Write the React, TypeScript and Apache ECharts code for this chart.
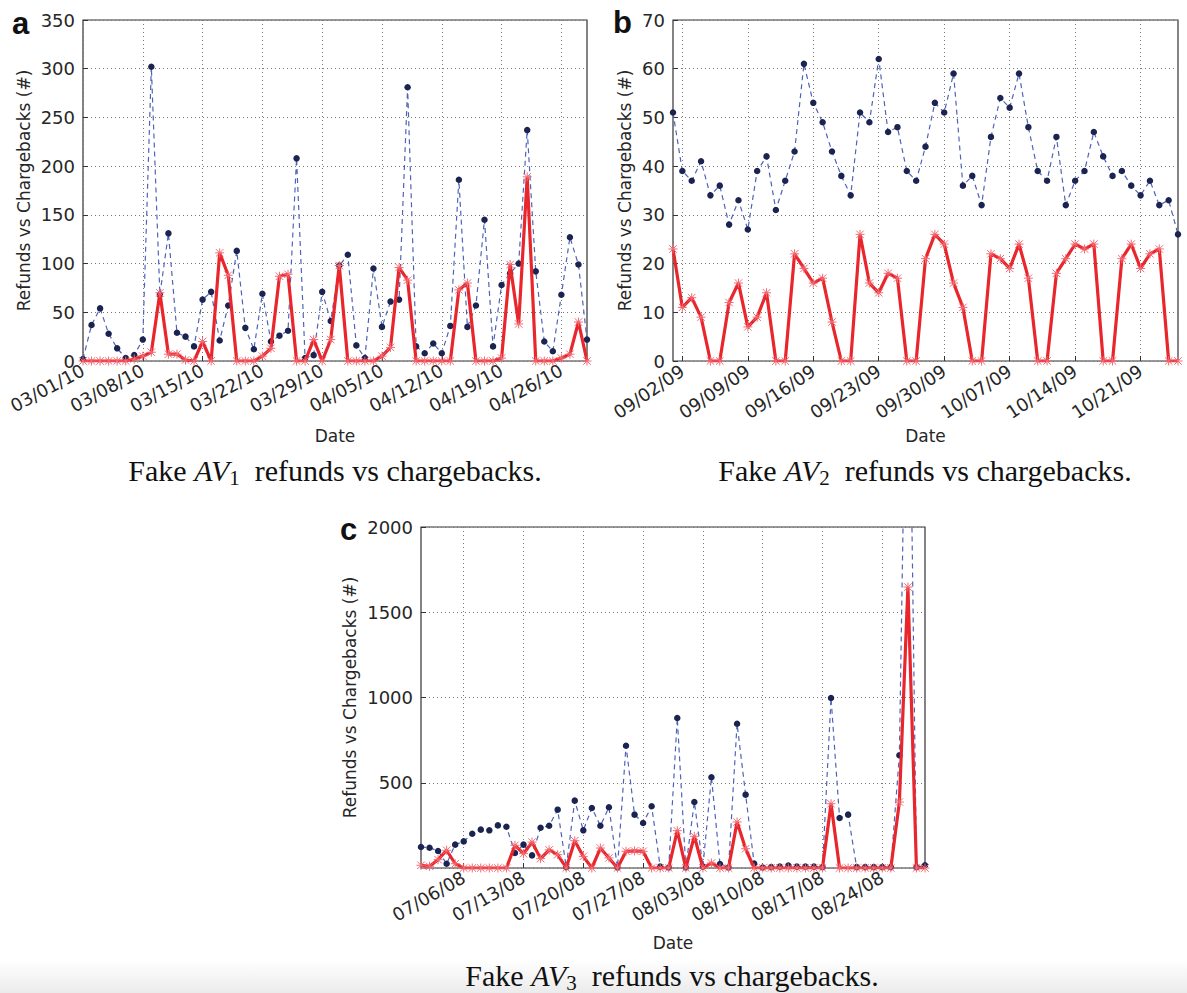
import React, { useEffect, useRef } from "react";
import * as echarts from "echarts";

// ---------- Panel a: Fake AV1 (day 0 = 03/01/10) ----------
const aTickDays = [0, 7, 14, 21, 28, 35, 42, 49, 56];
const aTickLabels = ["03/01/10", "03/08/10", "03/15/10", "03/22/10", "03/29/10", "04/05/10", "04/12/10", "04/19/10", "04/26/10"];
const aRefunds = [
  2, 37, 54, 28, 13, 3, 6, 22, 302, 68,
  131, 29, 25, 15, 63, 71, 21, 57, 113, 34,
  12, 69, 20, 26, 31, 208, 3, 6, 71, 41,
  98, 109, 16, 3, 95, 35, 61, 63, 281, 15,
  8, 18, 8, 36, 186, 35, 57, 145, 15, 78,
  90, 100, 237, 92, 20, 10, 68, 127, 99, 22,
];
const aChargebacks = [
  0, 0, 0, 0, 0, 0, 2, 5, 9, 70,
  7, 7, 1, 0, 20, 0, 111, 88, 0, 0,
  0, 5, 13, 87, 89, 0, 0, 22, 0, 22,
  98, 0, 0, 0, 0, 5, 14, 96, 83, 0,
  0, 0, 0, 0, 73, 80, 0, 0, 0, 3,
  99, 38, 189, 0, 0, 0, 3, 7, 40, 0,
];

// ---------- Panel b: Fake AV2 (day 0 = 09/01/09) ----------
const bTickDays = [1, 8, 15, 22, 29, 36, 43, 50];
const bTickLabels = ["09/02/09", "09/09/09", "09/16/09", "09/23/09", "09/30/09", "10/07/09", "10/14/09", "10/21/09"];
const bRefunds = [
  51, 39, 37, 41, 34, 36, 28, 33, 27, 39,
  42, 31, 37, 43, 61, 53, 49, 43, 38, 34,
  51, 49, 62, 47, 48, 39, 37, 44, 53, 51,
  59, 36, 38, 32, 46, 54, 52, 59, 48, 39,
  37, 46, 32, 37, 39, 47, 42, 38, 39, 36,
  34, 37, 32, 33, 26,
];
const bChargebacks = [
  23, 11, 13, 9, 0, 0, 12, 16, 7, 9,
  14, 0, 0, 22, 19, 16, 17, 8, 0, 0,
  26, 16, 14, 18, 17, 0, 0, 21, 26, 24,
  16, 11, 0, 0, 22, 21, 19, 24, 17, 0,
  0, 18, 21, 24, 23, 24, 0, 0, 21, 24,
  19, 22, 23, 0, 0,
];

// ---------- Panel c: Fake AV3 (day 0 = 07/01/08) ----------
const cTickDays = [5, 12, 19, 26, 33, 40, 47, 54];
const cTickLabels = ["07/06/08", "07/13/08", "07/20/08", "07/27/08", "08/03/08", "08/10/08", "08/17/08", "08/24/08"];
const cRefunds = [
  123, 119, 100, 25, 137, 156, 201, 225, 221, 250,
  242, 88, 137, 74, 236, 248, 342, 5, 395, 221,
  352, 248, 356, 3, 717, 313, 264, 362, 8, 3,
  880, 3, 387, 8, 532, 23, 3, 846, 430, 26,
  3, 5, 8, 14, 8, 8, 8, 5, 997, 293,
  313, 5, 5, 5, 5, 5, 661, 3800, 5, 16,
];
const cChargebacks = [
  16, 10, 49, 104, 25, 0, 0, 0, 0, 0,
  0, 133, 84, 152, 55, 106, 78, 0, 160, 68,
  0, 117, 59, 0, 98, 100, 98, 0, 0, 0,
  219, 0, 186, 0, 29, 0, 0, 270, 113, 0,
  0, 0, 0, 0, 0, 0, 0, 0, 377, 0,
  0, 0, 0, 0, 0, 0, 387, 1648, 0, 0,
];

const SANS = "DejaVu Sans";
const SERIF = "Liberation Serif";
const TXT = "#262626";
const BLUE_LINE = "#4f63b8";
const BLUE_DOT = "#1b2450";
const RED = "#e8262c";
const RED_MARK = "#f26a74";
const STAR = "path://M0,0L10,10M10,0L0,10M5,-1L5,11M-1,5L11,5";

const grids = [
  { left: 83, top: 20, width: 504, height: 341 },
  { left: 673, top: 20, width: 505, height: 341 },
  { left: 421, top: 527, width: 504, height: 341 },
];

function xAxis(gridIndex: number, max: number, days: number[], labels: string[], rotate: number) {
  return {
    type: "value",
    gridIndex,
    min: 0,
    max,
    axisLine: { show: false },
    axisTick: { show: true, inside: true, length: 5, customValues: days, lineStyle: { color: "#333" } },
    axisLabel: {
      customValues: days,
      formatter: (v: number) => {
        const i = days.indexOf(Math.round(v));
        return i >= 0 ? labels[i] : "";
      },
      rotate,
      margin: 8,
      fontSize: 18,
      fontFamily: SANS,
      color: TXT,
    },
    splitLine: { show: true, lineStyle: { type: [1, 3], color: "#777", width: 1 } },
    name: "Date",
    nameLocation: "middle",
    nameGap: 66,
    nameTextStyle: { fontSize: 17, fontFamily: SANS, color: TXT },
  };
}

function yAxis(gridIndex: number, max: number, interval: number, nameGap: number, showMin: boolean) {
  return {
    type: "value",
    gridIndex,
    min: 0,
    max,
    interval,
    axisLine: { show: false },
    axisTick: { show: true, inside: true, length: 5, lineStyle: { color: "#333" } },
    axisLabel: {
      fontSize: 18,
      fontFamily: SANS,
      color: TXT,
      margin: 8,
      showMinLabel: showMin,
      formatter: (v: number) => String(v),
    },
    splitLine: { show: true, lineStyle: { type: [1, 3], color: "#777", width: 1 } },
    name: "Refunds vs Chargebacks (#)",
    nameLocation: "middle",
    nameGap,
    nameRotate: 90,
    nameTextStyle: { fontSize: 17, fontFamily: SANS, color: TXT },
  };
}

function pairs(values: number[]) {
  return values.map((v, i) => [i, v]);
}

function refundSeries(idx: number, values: number[]) {
  return {
    type: "line",
    name: "Refunds",
    xAxisIndex: idx,
    yAxisIndex: idx,
    data: pairs(values),
    symbol: "circle",
    symbolSize: 6.5,
    showSymbol: true,
    clip: true,
    lineStyle: { color: BLUE_LINE, width: 1.2, type: [5, 4] },
    itemStyle: { color: BLUE_DOT, borderColor: BLUE_DOT, borderWidth: 0 },
    z: 2,
  };
}

function chargebackSeries(idx: number, values: number[]) {
  return {
    type: "line",
    name: "Chargebacks",
    xAxisIndex: idx,
    yAxisIndex: idx,
    data: pairs(values),
    symbol: STAR,
    symbolSize: 9,
    showSymbol: true,
    clip: true,
    lineStyle: { color: RED, width: 3.2 },
    itemStyle: { color: "none", borderColor: RED_MARK, borderWidth: 1 },
    z: 3,
  };
}

function caption(cx: number, y: number, sub: string) {
  return {
    type: "text",
    x: cx,
    y,
    z: 10,
    style: {
      text: `{n|Fake }{i|AV}{s|${sub}}{n|  refunds vs chargebacks.}`,
      align: "center",
      verticalAlign: "middle",
      rich: {
        n: { fontFamily: SERIF, fontSize: 30, fill: "#111" },
        i: { fontFamily: SERIF, fontSize: 30, fontStyle: "italic", fill: "#111" },
        s: { fontFamily: SERIF, fontSize: 21, fill: "#111", padding: [15, 0, 0, 0] },
      },
    },
  };
}

function panelLetter(x: number, y: number, t: string) {
  return {
    type: "text",
    x,
    y,
    z: 10,
    style: { text: t, fontFamily: "Liberation Sans", fontWeight: "bold", fontSize: 31, fill: "#111", align: "left", verticalAlign: "middle" },
  };
}

export default function App() {
  const ref = useRef<HTMLDivElement>(null);
  useEffect(() => {
    if (!ref.current) return;
    const chart = echarts.init(ref.current, undefined, { renderer: "svg" });
    chart.setOption({
      animation: false,
      backgroundColor: "#ffffff",
      grid: grids.map((g) => ({ ...g, show: true, borderColor: "#333", borderWidth: 1.2, backgroundColor: "transparent" })),
      xAxis: [
        xAxis(0, 59, aTickDays, aTickLabels, 28),
        xAxis(1, 54, bTickDays, bTickLabels, 34),
        xAxis(2, 59, cTickDays, cTickLabels, 30),
      ],
      yAxis: [
        yAxis(0, 350, 50, 51, true),
        yAxis(1, 70, 10, 40, true),
        yAxis(2, 2000, 500, 63, false),
      ],
      series: [
        refundSeries(0, aRefunds),
        chargebackSeries(0, aChargebacks),
        refundSeries(1, bRefunds),
        chargebackSeries(1, bChargebacks),
        refundSeries(2, cRefunds),
        chargebackSeries(2, cChargebacks),
      ],
      graphic: [
        {
          type: "rect",
          z: -10,
          silent: true,
          shape: { x: 0, y: 960, width: 1187, height: 33 },
          style: {
            fill: new echarts.graphic.LinearGradient(0, 0, 0, 1, [
              { offset: 0, color: "#ffffff" },
              { offset: 1, color: "#ebebeb" },
            ]),
          },
        },
        panelLetter(12, 23, "a"),
        panelLetter(613, 22, "b"),
        panelLetter(340, 529, "c"),
        caption(335, 470, "1"),
        caption(925, 470, "2"),
        caption(672, 975, "3"),
      ],
    });
    return () => chart.dispose();
  }, []);
  return <div ref={ref} style={{ position: "fixed", left: 0, top: 0, width: 1187, height: 993 }} />;
}
